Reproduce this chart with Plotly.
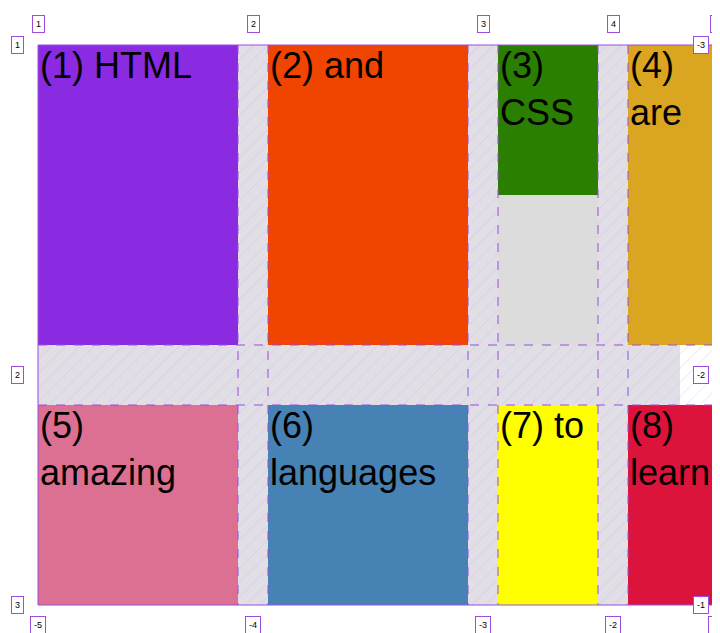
import plotly.graph_objects as go

# grid tracks (pixel edges in the screenshot)
col_edges = [30, 230, 260, 460, 490, 590, 620, 720]
row_edges = [37, 337, 397, 597]

labels = ["(1) HTML", "(2) and", "(3)<br>CSS", "(4)<br>are",
          "(5)<br>amazing", "(6)<br>languages", "(7) to", "(8)<br>learn"]
colors = ["#8A2BE2", "#F04500", "#2A7E00", "#DAA520",
          "#DB7093", "#4682B4", "#FFFF00", "#DC143C"]
cell_col = [0, 2, 4, 6, 0, 2, 4, 6]
cell_row = [0, 0, 0, 0, 2, 2, 2, 2]
green_bottom = 187

top_nums = ["1", "2", "3", "4", "5"]
bottom_nums = ["-5", "-4", "-3", "-2", "-1"]
left_nums = ["1", "2", "3"]
right_nums = ["-3", "-2", "-1"]

PURPLE = "#9B4DE0"
fig = go.Figure()

# hatched background over whole grid (gaps show it)
def hatch(x0, x1, y0, y1, bg="#E1DEE6"):
    fig.add_trace(go.Scatter(
        x=[x0, x1, x1, x0, x0], y=[y0, y0, y1, y1, y0], mode="lines",
        line=dict(width=0), fill="toself", fillcolor=bg,
        fillpattern=dict(shape="/", fgcolor="#C9B8E8", bgcolor=bg, size=10, solidity=0.08),
        hoverinfo="skip", showlegend=False))

hatch(30, 672, 37, 597)
hatch(672, 720, 337, 397, bg="#FFFFFF")
hatch(672, 720, 37, 337)
hatch(672, 720, 397, 597)

shapes = []
annotations = []
for lab, c, ci, ri in zip(labels, colors, cell_col, cell_row):
    x0, x1 = col_edges[ci], col_edges[ci + 1]
    y0, y1 = row_edges[ri], row_edges[ri + 1]
    if lab.startswith("(3)"):
        shapes.append(dict(type="rect", x0=x0, x1=x1, y0=green_bottom, y1=y1,
                           fillcolor="#DCDCDC", line_width=0, layer="above"))
        y1 = green_bottom
    shapes.append(dict(type="rect", x0=x0, x1=x1, y0=y0, y1=y1,
                       fillcolor=c, line_width=0, layer="above"))
    annotations.append(dict(x=x0, y=y0 - 2, text=lab, showarrow=False,
                            xanchor="left", yanchor="top", align="left",
                            font=dict(family="Liberation Sans", size=36, color="black")))

for x in col_edges[1:-1]:
    shapes.append(dict(type="line", x0=x, x1=x, y0=37, y1=597,
                       line=dict(color=PURPLE, width=1, dash="dash")))
for y in row_edges[1:-1]:
    shapes.append(dict(type="line", x0=30, x1=720, y0=y, y1=y,
                       line=dict(color=PURPLE, width=1, dash="dash")))
for y in (37, 597):
    shapes.append(dict(type="line", x0=30, x1=720, y0=y, y1=y, line=dict(color=PURPLE, width=1)))
shapes.append(dict(type="line", x0=30, x1=30, y0=37, y1=597, line=dict(color=PURPLE, width=1)))

def badge(x, y, t):
    annotations.append(dict(x=x, y=y, text=t, showarrow=False, bgcolor="white",
                            bordercolor=PURPLE, borderwidth=1, borderpad=3,
                            font=dict(family="Liberation Sans", size=9, color="black")))

top_x = [30, 245, 475, 605, 708]
for x, t in zip(top_x, top_nums):
    badge(x, 16, t)
for x, t in zip(top_x, bottom_nums):
    badge(x, 617, t)
left_y = [37, 367, 597]
for y, t in zip(left_y, left_nums):
    badge(9, y, t)
for y, t in zip(left_y, right_nums):
    badge(693, y, t)

fig.update_layout(
    width=720, height=633, margin=dict(l=0, r=0, t=0, b=0, autoexpand=False),
    paper_bgcolor="white", plot_bgcolor="white",
    xaxis=dict(range=[0, 720], visible=False, fixedrange=True),
    yaxis=dict(range=[633, 0], visible=False, fixedrange=True),
    shapes=shapes, annotations=annotations, showlegend=False)
fig.write_html("out.html")
